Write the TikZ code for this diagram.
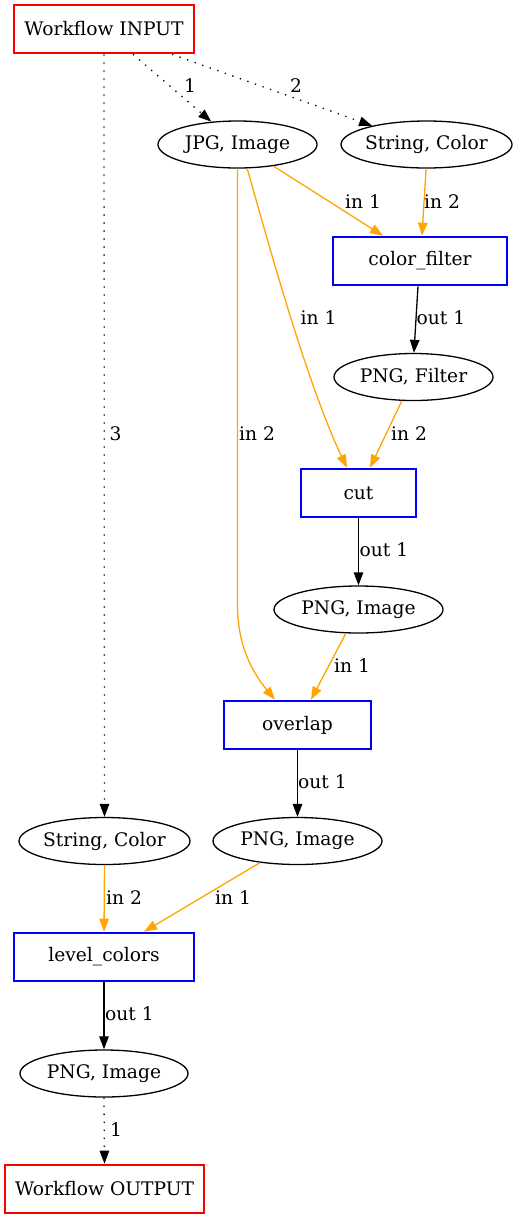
\documentclass[tikz,border=0pt]{standalone}
\usepackage{fontspec}
\setmainfont{DejaVu Serif}
\usetikzlibrary{arrows.meta,shapes.geometric}
\definecolor{gvred}{HTML}{FF0000}
\definecolor{gvblue}{HTML}{0000FF}
\definecolor{gvorange}{HTML}{FFA500}

\begin{document}
\begin{tikzpicture}[x=1pt,y=-1pt,
  every node/.style={font=\fontsize{18.67}{22}\selectfont},
  io/.style={draw=gvred, line width=2.6pt, minimum width=#1, minimum height=48pt, inner sep=0pt},
  task/.style={draw=gvblue, line width=2.6pt, minimum width=#1, minimum height=48pt, inner sep=0pt},
  data/.style={ellipse, draw=black, line width=1.3pt, minimum width=#1, minimum height=47pt,
               inner xsep=-30pt, inner ysep=-10pt},
  tip/.style={-{Triangle[length=13pt,width=9.5pt]}},
  link/.style={tip, draw=black, line width=1.3pt, dash pattern=on 1.3pt off 6.7pt},
  feed/.style={tip, draw=gvorange, line width=1.3pt},
  yield/.style={tip, draw=black, line width=1.3pt},
  lbl/.style={inner sep=0pt}
]
\useasboundingbox (0,0) rectangle (518,1219);

% nodes
\node[io=180pt]   (inp) at (104,29)     {Workflow INPUT};
\node[data=159pt] (jpg) at (237.5,144.5) {JPG, Image};
\node[data=171pt] (sca) at (426.5,144.5) {String, Color};
\node[task=174pt] (cf)  at (420,261)     {color\_filter};
\node[data=159pt] (pf)  at (413.5,377)   {PNG, Filter};
\node[task=115pt] (cut) at (358.5,493)   {cut};
\node[data=169pt] (pia) at (358.5,609.5) {PNG, Image};
\node[task=147pt] (ov)  at (297.5,725)   {overlap};
\node[data=171pt] (scb) at (104.5,841)   {String, Color};
\node[data=169pt] (pib) at (297.5,841)   {PNG, Image};
\node[task=180pt] (lc)  at (104,957)     {level\_colors};
\node[data=168pt] (pic) at (104,1073.5)  {PNG, Image};
\node[io=199pt]   (out) at (104.5,1189)  {Workflow OUTPUT};

% workflow inputs
\draw[link] ([xshift=29pt]inp.south) -- (jpg.139) node[lbl] at (190,86) {1};
\draw[link] ([xshift=68pt]inp.south) -- (sca.161) node[lbl] at (296,86) {2};
\draw[link] (inp.south) -- (scb.north) node[lbl] at (115.5,434) {3};

% color_filter
\draw[feed] (jpg.-31) -- ([xshift=-37pt]cf.north) node[lbl] at (363,202) {in 1};
\draw[feed] (sca.-91) -- ([xshift=2pt]cf.north) node[lbl] at (442,202) {in 2};
\draw[yield] ([xshift=-2pt]cf.south) -- (pf.89) node[lbl] at (441,318) {out 1};

% cut
\draw[feed] (jpg.-68) .. controls (262,220) and (305,380) .. ([xshift=-11.5pt]cut.north)
  node[lbl] at (318.5,318) {in 1};
\draw[feed] (pf.-116) -- ([xshift=11.5pt]cut.north) node[lbl] at (409,434) {in 2};
\draw[yield] (cut.south) -- (pia.north) node[lbl] at (384,550) {out 1};

% overlap
\draw[feed] (jpg.south) -- (237.5,605) .. controls (237.5,645) and (252,672) .. ([xshift=-22.5pt]ov.north)
  node[lbl] at (257,434) {in 2};
\draw[feed] (pia.-118) -- ([xshift=13.5pt]ov.north) node[lbl] at (352,666) {in 1};
\draw[yield] (ov.south) -- (pib.north) node[lbl] at (322.5,782) {out 1};

% level_colors
\draw[feed] (scb.south) -- (lc.north) node[lbl] at (124,898) {in 2};
\draw[feed] (pib.-150) -- ([xshift=40pt]lc.north) node[lbl] at (233,898) {in 1};
\draw[yield] (lc.south) -- (pic.north) node[lbl] at (129.5,1014) {out 1};

% workflow output
\draw[link] (pic.south) -- (out.north) node[lbl] at (116,1130) {1};
\end{tikzpicture}
\end{document}
